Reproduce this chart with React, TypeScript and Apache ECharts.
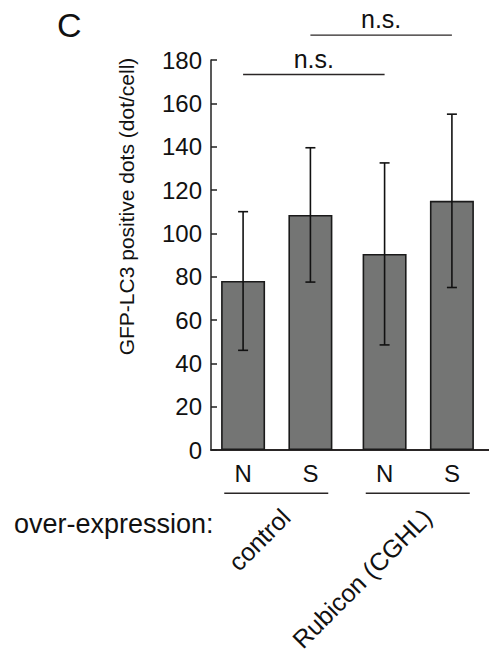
import React, { useEffect, useRef } from 'react';
import * as echarts from 'echarts';

// ---- data ----
const groups = ['control', 'Rubicon (CGHL)'];
const conditions = ['N', 'S'];
const meansN = [78, 90.5];
const meansS = [108.5, 115];
const errorsN = [32, 42];
const errorsS = [31, 40];
const yMin = 0;
const yMax = 180;
const yStep = 20;
const bracketFromGroup = [0, 0];
const bracketToGroup = [1, 1];
const bracketCondition = [0, 1];
const bracketLevel = [173.3, 191.5];
const bracketLabel = ['n.s.', 'n.s.'];
const panelLetter = 'C';
const yTitle = 'GFP-LC3 positive dots (dot/cell)';
const rowTitle = 'over-expression:';

// ---- style ----
const FONT = "'Liberation Sans', Arial, Helvetica, sans-serif";
const INK = '#111';
const BAR_WIDTH = 44;
const BAR_GAP = 0.53;
const HALF_PITCH = (BAR_WIDTH * (1 + BAR_GAP)) / 2;

export default function App() {
  const ref = useRef<HTMLDivElement>(null);

  useEffect(() => {
    if (!ref.current) return;
    const chart = echarts.init(ref.current, undefined, { renderer: 'svg' });

    const means = [meansN, meansS];
    const errs = [errorsN, errorsS];
    const errorData: number[][] = [];
    groups.forEach((_, gi) => {
      conditions.forEach((_c, ci) => {
        errorData.push([gi, ci, means[ci][gi], errs[ci][gi]]);
      });
    });
    const bracketData = bracketLevel.map((lv, i) => [
      bracketFromGroup[i],
      bracketToGroup[i],
      bracketCondition[i],
      lv,
    ]);
    const side = (c: number) => (c === 0 ? -1 : 1);

    const barLabel = {
      show: true,
      position: 'bottom',
      distance: 11,
      formatter: '{a}',
      fontSize: 24,
      color: INK,
      fontFamily: FONT,
    };
    const barItem = { color: '#747574', borderColor: '#1a1a1a', borderWidth: 1.6 };

    chart.setOption({
      animation: false,
      backgroundColor: '#ffffff',
      grid: [
        { left: 206, top: 60, width: 283, height: 390 },
        { left: 211, top: 60, width: 278, height: 390 },
      ],
      xAxis: [
        {
          type: 'category',
          gridIndex: 0,
          data: groups,
          axisLine: { show: false },
          axisTick: { show: false },
          axisLabel: { show: false },
        },
        {
          type: 'value',
          gridIndex: 1,
          min: 0,
          max: 1,
          axisLine: { show: true, lineStyle: { color: '#2a2626', width: 1.8 } },
          axisTick: { show: false },
          axisLabel: { show: false },
          splitLine: { show: false },
        },
      ],
      yAxis: [
        {
          type: 'value',
          gridIndex: 0,
          min: yMin,
          max: yMax,
          interval: yStep,
          offset: -5,
          axisLine: { show: true, lineStyle: { color: '#222', width: 1.5 } },
          axisTick: { show: true, inside: true, length: 6, lineStyle: { color: '#222', width: 1.5 } },
          axisLabel: { fontSize: 24, color: INK, fontFamily: FONT, margin: 9 },
          splitLine: { show: false },
        },
        { type: 'value', gridIndex: 1, min: 0, max: 1, show: false },
      ],
      graphic: [
        {
          type: 'text',
          x: 57,
          y: 24.5,
          style: { text: panelLetter, fontSize: 34, fontFamily: FONT, fill: INK, align: 'left', verticalAlign: 'middle' },
        },
        {
          type: 'text',
          x: 126,
          y: 206.5,
          rotation: Math.PI / 2,
          style: { text: yTitle, fontSize: 21, fontFamily: FONT, fill: INK, align: 'center', verticalAlign: 'middle' },
        },
        {
          type: 'text',
          x: 14,
          y: 524,
          style: { text: rowTitle, fontSize: 27, fontFamily: FONT, fill: INK, align: 'left', verticalAlign: 'middle' },
        },
      ],
      series: [
        {
          name: conditions[0],
          type: 'bar',
          xAxisIndex: 0,
          yAxisIndex: 0,
          data: meansN,
          barWidth: BAR_WIDTH,
          barGap: `${BAR_GAP * 100}%`,
          itemStyle: barItem,
          label: barLabel,
        },
        {
          name: conditions[1],
          type: 'bar',
          xAxisIndex: 0,
          yAxisIndex: 0,
          data: meansS,
          barWidth: BAR_WIDTH,
          barGap: `${BAR_GAP * 100}%`,
          itemStyle: barItem,
          label: barLabel,
        },
        {
          type: 'custom',
          name: 'error',
          xAxisIndex: 0,
          yAxisIndex: 0,
          z: 5,
          encode: { x: 0, y: 2 },
          data: errorData,
          renderItem: (_params: any, api: any) => {
            const g = api.value(0);
            const c = api.value(1);
            const m = api.value(2);
            const e = api.value(3);
            const cx = api.coord([g, 0])[0] + side(c) * HALF_PITCH;
            const yT = api.coord([g, m + e])[1];
            const yB = api.coord([g, m - e])[1];
            const style = { stroke: INK, lineWidth: 1.6 };
            return {
              type: 'group',
              children: [
                { type: 'line', shape: { x1: cx, y1: yT, x2: cx, y2: yB }, style },
                { type: 'line', shape: { x1: cx - 5, y1: yT, x2: cx + 5, y2: yT }, style },
                { type: 'line', shape: { x1: cx - 5, y1: yB, x2: cx + 5, y2: yB }, style },
              ],
            };
          },
        },
        {
          type: 'custom',
          name: 'groups',
          xAxisIndex: 0,
          yAxisIndex: 0,
          encode: { x: 0, y: 1 },
          data: groups.map((_, gi) => [gi, 0]),
          renderItem: (params: any, api: any) => {
            const g = api.value(0);
            const p = api.coord([g, 0]);
            const cx = p[0];
            const y0 = p[1];
            return {
              type: 'group',
              children: [
                {
                  type: 'line',
                  shape: { x1: cx - 52.5, y1: y0 + 43.3, x2: cx + 51.5, y2: y0 + 43.3 },
                  style: { stroke: '#2a2626', lineWidth: 1.4 },
                },
                {
                  type: 'text',
                  x: cx + 9,
                  y: y0 + 63,
                  rotation: Math.PI / 4,
                  style: {
                    text: groups[params.dataIndex],
                    fontSize: 25,
                    fontFamily: FONT,
                    fill: INK,
                    align: 'right',
                    verticalAlign: 'middle',
                  },
                },
              ],
            };
          },
        },
        {
          type: 'custom',
          name: 'brackets',
          xAxisIndex: 0,
          yAxisIndex: 0,
          encode: { x: 0, y: 3 },
          data: bracketData,
          renderItem: (params: any, api: any) => {
            const g1 = api.value(0);
            const g2 = api.value(1);
            const c = api.value(2);
            const lv = api.value(3);
            const x1 = api.coord([g1, lv])[0] + side(c) * HALF_PITCH;
            const x2 = api.coord([g2, lv])[0] + side(c) * HALF_PITCH;
            const y = api.coord([g1, lv])[1];
            return {
              type: 'group',
              children: [
                { type: 'line', shape: { x1, y1: y, x2, y2: y }, style: { stroke: '#2a2626', lineWidth: 1.4 } },
                {
                  type: 'text',
                  x: (x1 + x2) / 2,
                  y: y - 16,
                  style: {
                    text: bracketLabel[params.dataIndex],
                    fontSize: 25,
                    fontFamily: FONT,
                    fill: INK,
                    align: 'center',
                    verticalAlign: 'middle',
                  },
                },
              ],
            };
          },
        },
      ],
    });

    return () => chart.dispose();
  }, []);

  return (
    <div
      ref={ref}
      style={{ position: 'fixed', left: 0, top: 0, width: 489, height: 660, background: '#fff' }}
    />
  );
}
